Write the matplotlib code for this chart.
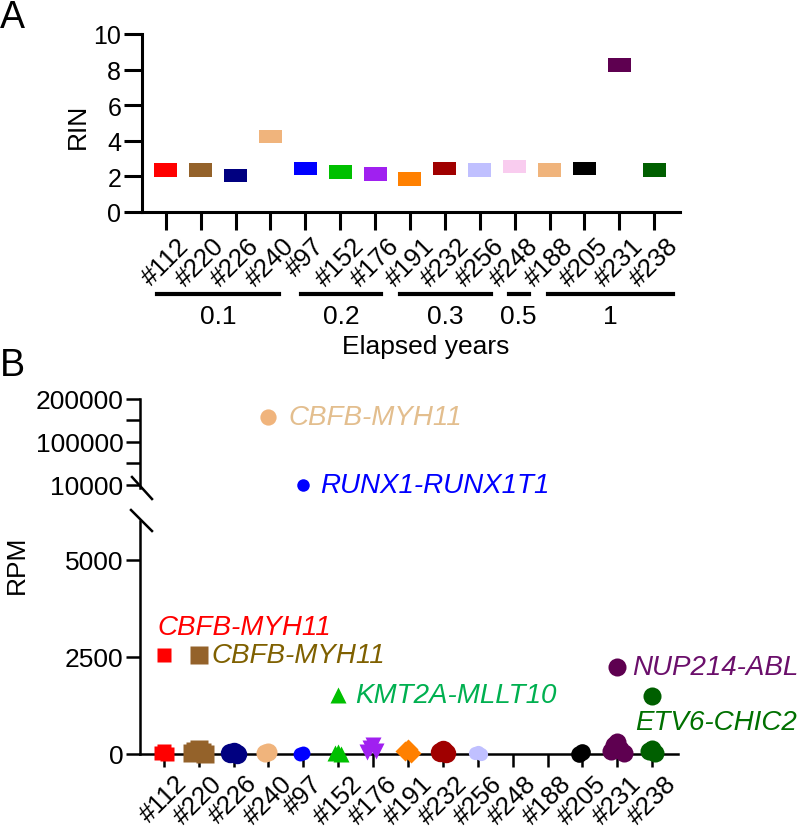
import numpy as np
import matplotlib.pyplot as plt
from matplotlib.transforms import blended_transform_factory

plt.rcParams['font.family'] = ['Liberation Sans', 'DejaVu Sans']

# samples, ordered by elapsed years
samples = ['#112', '#220', '#226', '#240', '#97', '#152', '#176', '#191',
           '#232', '#256', '#248', '#188', '#205', '#231', '#238']
year_groups = ['0.1', '0.2', '0.3', '0.5', '1']
group_sizes = [4, 3, 3, 1, 4]

# panel A: RNA integrity number
rin = [2.36, 2.36, 2.04, 4.23, 2.45, 2.25, 2.13, 1.85, 2.45, 2.36, 2.55, 2.36, 2.45, 8.26, 2.36]

# panel B: RPM of detected fusions per sample (highest = named fusion)
rpm = [
    [2550, 80, 30, 10],
    [2550, 120, 70, 40, 15, 5],
    [60, 30, 10],
    [159000, 50, 20],
    [11000, 20, 10],
    [1520, 60, 30, 10],
    [220, 150, 90, 40],
    [120, 70, 30],
    [110, 60, 20],
    [40, 20, 10],
    [],
    [],
    [40, 10],
    [2240, 300, 220, 140, 80, 30],
    [1500, 130, 80, 30],
]

fusion_names = {'#112': 'CBFB-MYH11', '#220': 'CBFB-MYH11', '#240': 'CBFB-MYH11',
                '#97': 'RUNX1-RUNX1T1', '#152': 'KMT2A-MLLT10',
                '#231': 'NUP214-ABL', '#238': 'ETV6-CHIC2'}

colors = ['#FF0000', '#94622A', '#000080', '#F0B47C', '#0000FF', '#00C000', '#A020F0',
          '#FF8000', '#A00000', '#C0C0FF', '#F9CCEF', '#F0B47C', '#000000', '#5E0050', '#005F00']
markers = ['s', 's', 'o', 'o', 'o', '^', 'v', 'D', 'o', 'o', 'o', 'o', 'o', 'o', 'o']
msizes = [10, 13.5, 14, 13, 10, 11, 12, 10.5, 14, 9.5, 10, 10, 12, 13, 13]

text_colors = {'#112': '#FF0000', '#220': '#7F6000', '#240': '#E3BE8E', '#97': '#0000FF',
               '#152': '#00B050', '#231': '#6B0F6B', '#238': '#007000'}
text_offsets = {'#112': (-6, 28), '#220': (13, 0), '#240': (20, 0), '#97': (17, 0),
                '#152': (17, 0), '#231': (15, 0), '#238': (-17, -26)}

# extents of the group underlines (in category units)
group_spans = [(-0.26, 3.26), (3.89, 6.17), (6.72, 9.31), (9.83, 10.40), (10.97, 14.53)]

x = np.arange(len(samples))
W, H = 800, 828
fig = plt.figure(figsize=(W / 100, H / 100), dpi=100)

def box(l, t, r, b):
    return [l / W, 1 - b / H, (r - l) / W, (b - t) / H]

xlim = (-0.68, 14.74)

# ---------------- panel A
axA = fig.add_axes(box(142, 35, 680, 213))
axA.bar(x, 0.75, bottom=np.array(rin) - 0.375, width=0.66, color=colors,
        edgecolor='none', clip_on=False)
axA.set_xlim(*xlim)
axA.set_ylim(0, 10)
axA.set_yticks([0, 2, 4, 6, 8, 10])
axA.set_xticks(x)
axA.set_xticklabels(samples, rotation=45, fontsize=18.5)
axA.tick_params(axis='y', labelsize=18, length=13, width=2.2, pad=2)
axA.tick_params(axis='x', length=13, width=2.2, pad=2)
for s in ['top', 'right']:
    axA.spines[s].set_visible(False)
for s in ['left', 'bottom']:
    axA.spines[s].set_linewidth(2.2)

trans = blended_transform_factory(axA.transData, axA.transAxes)
for g, (x0, x1) in zip(year_groups, group_spans):
    axA.plot([x0, x1], [-0.461, -0.461], color='black', lw=3, transform=trans, clip_on=False)
    axA.text((x0 + x1) / 2, -0.585, g, transform=trans, ha='center', va='center', fontsize=19)
fig.text(426 / W, 1 - 347 / H, 'Elapsed years', ha='center', va='center', fontsize=19)
fig.text(78 / W, 1 - 126 / H, 'RIN', rotation=90, ha='center', va='center', fontsize=19)

# ---------------- panel B
def fwd(v):
    v = np.asarray(v, float)
    return np.where(v < 1e5, (v - 1e4) / 9e4, 1 + (v - 1e5) / 1e5)

def inv(p):
    p = np.asarray(p, float)
    return np.where(p < 1, 1e4 + p * 9e4, 1e5 + (p - 1) * 1e5)

axT = fig.add_axes(box(140, 400, 678, 489))
axB = fig.add_axes(box(140, 522, 678, 755))

for i, vals in enumerate(rpm):
    if not vals:
        continue
    vals = np.array(vals, float)
    top = vals.max()
    small = np.sort(vals[vals < 1000])[::-1]
    # spread the low points centre-out, largest in the middle
    k = np.arange(len(small))
    offs = 0.09 * np.ceil(k / 2) * np.where(k % 2 == 1, -1, 1)
    kw = dict(marker=markers[i], ms=msizes[i], color=colors[i], ls='none', mec='none')
    axB.plot(x[i] + offs, small, clip_on=False, zorder=5, **kw)
    if top >= 1000:
        target = axT if top > 6000 else axB
        kw['ms'] = msizes[i] * (0.9 if top > 6000 else 1)
        target.plot([x[i]], [top], clip_on=False, zorder=5, **kw)
        name = samples[i]
        target.annotate(fusion_names[name], (x[i], top), xytext=text_offsets[name],
                        textcoords='offset pixels', ha='left', va='center',
                        fontsize=20, style='italic', color=text_colors[name])

axT.set_yscale('function', functions=(fwd, inv))
axT.set_ylim(3700, 200000)
axT.set_xlim(*xlim)
axT.set_yticks([10000, 100000, 200000])
axT.set_yticks([55000, 150000], minor=True)
axT.set_yticklabels(['10000', '100000', '200000'])
axT.tick_params(axis='y', which='both', labelsize=19, length=10, width=1.8, pad=2)
axT.set_xticks([])
for s in ['top', 'right', 'bottom']:
    axT.spines[s].set_visible(False)
axT.spines['left'].set_linewidth(1.8)

axB.set_ylim(0, 6000)
axB.set_xlim(*xlim)
axB.set_yticks([0, 2500, 5000])
axB.set_xticks(x)
axB.set_xticklabels(samples, rotation=45, fontsize=18.5)
axB.tick_params(axis='y', labelsize=19, length=10, width=1.8, pad=2)
axB.tick_params(axis='x', length=9, width=1.8, pad=3)
for s in ['top', 'right']:
    axB.spines[s].set_visible(False)
for s in ['left', 'bottom']:
    axB.spines[s].set_linewidth(1.8)

# axis break marks
axT.plot([-8 / 538, 12 / 538], [11 / 89, -11 / 89], color='black', lw=1.8,
         transform=axT.transAxes, clip_on=False)
axB.plot([-9 / 538, 12 / 538], [244 / 233, 223 / 233], color='black', lw=1.8,
         transform=axB.transAxes, clip_on=False)

fig.text(17 / W, 1 - 565 / H, 'RPM', rotation=90, ha='center', va='center', fontsize=19)

fig.text(0.0, 1.0, 'A', ha='left', va='top', fontsize=27)
fig.text(0.0, 1 - 348 / H, 'B', ha='left', va='top', fontsize=27)

fig.savefig('out.png', dpi=100)
